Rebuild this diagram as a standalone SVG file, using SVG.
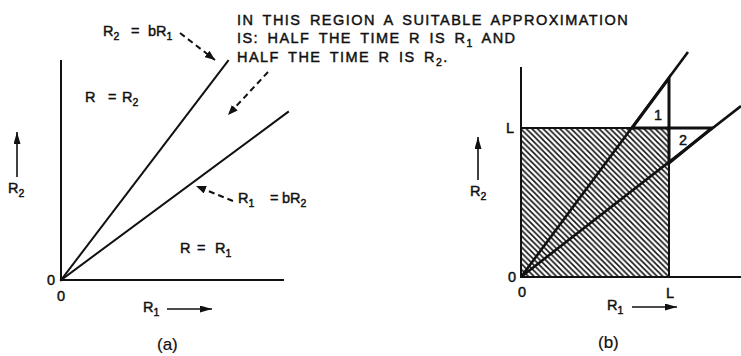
<svg xmlns="http://www.w3.org/2000/svg" width="741" height="356" viewBox="0 0 741 356">
<style>
text{font-family:"Liberation Sans",Arial,sans-serif;font-size:14.5px;fill:#111;stroke:#111;stroke-width:0.45}
.sub{font-size:10.5px}
.ax{stroke:#111;stroke-width:2;fill:none;stroke-linecap:square}
.th{stroke:#111;stroke-width:2.6;fill:none;stroke-linejoin:miter}
.ds{stroke:#111;stroke-width:2;fill:none;stroke-dasharray:6 4}
.ar{stroke:#111;stroke-width:1.6;fill:none}
.note{letter-spacing:1.45px;word-spacing:3px}
.cap{font-size:17px;stroke-width:0.2}
</style>
<defs>
<marker id="ah" viewBox="0 0 10 8" refX="10" refY="4" markerWidth="10" markerHeight="8" markerUnits="userSpaceOnUse" orient="auto">
<path d="M0,0 L10,4 L0,8 Z" fill="#111"/>
</marker>
<marker id="sh" viewBox="0 0 12 7" refX="12" refY="3.5" markerWidth="12" markerHeight="7" markerUnits="userSpaceOnUse" orient="auto">
<path d="M0,0 L12,3.5 L0,7 Z" fill="#111"/>
</marker>
<pattern id="hatch" patternUnits="userSpaceOnUse" width="5.6" height="5.6">
<path d="M-1,-1 L6.6,6.6 M-1,4.6 L1,6.6 M4.6,-1 L6.6,1" stroke="#111" stroke-width="1.6"/>
</pattern>
</defs>

<g id="panel-a">
<g id="axes-a">
<path class="ax" d="M61,61 L61,280 L283,280"/>
</g>
<g id="connectors-a">
<path class="ax" d="M61,280 L228,61"/>
<path class="ax" d="M61,280 L288,112"/>
<path class="ds" d="M180,33 L215,60" marker-end="url(#ah)"/>
<path class="ds" d="M268,72 L228,115" marker-end="url(#ah)"/>
<path class="ds" d="M233,201 L196,186" marker-end="url(#ah)"/>
<path class="ar" d="M17,177 L17,132" marker-end="url(#sh)"/>
<path class="ar" d="M167,309 L212,309" marker-end="url(#sh)"/>
</g>
<g id="labels-a">
<text x="103" y="36">R<tspan class="sub" dy="4">2</tspan><tspan dy="-4" x="131">=</tspan><tspan x="148">bR</tspan><tspan class="sub" dy="4">1</tspan></text>
<text x="85" y="102">R<tspan x="108">=</tspan><tspan x="122">R</tspan><tspan class="sub" dy="4">2</tspan></text>
<text x="238" y="203">R<tspan class="sub" dy="4">1</tspan><tspan dy="-4" x="270">=</tspan><tspan x="282">bR</tspan><tspan class="sub" dy="4">2</tspan></text>
<text x="180" y="253">R<tspan x="197">=</tspan><tspan x="215">R</tspan><tspan class="sub" dy="4">1</tspan></text>
<text x="8" y="193">R<tspan class="sub" dy="4">2</tspan></text>
<text x="143" y="312">R<tspan class="sub" dy="4">1</tspan></text>
<text x="47" y="285">0</text>
<text x="57" y="301">0</text>
<text class="cap" x="157" y="350">(a)</text>
</g>
</g>

<g id="note">
<text class="note" x="237" y="25">IN THIS REGION A SUITABLE APPROXIMATION</text>
<text class="note" x="237" y="43">IS: HALF THE TIME R IS R<tspan class="sub" dy="4">1</tspan><tspan dy="-4">  AND</tspan></text>
<text class="note" x="237" y="62">HALF THE TIME R IS R<tspan class="sub" dy="4">2</tspan><tspan dy="-4">.</tspan></text>
</g>

<g id="panel-b">
<g id="square">
<rect x="521" y="128" width="148" height="149" fill="url(#hatch)"/>
</g>
<g id="axes-b">
<path class="ax" d="M521,68 L521,277 L741,277"/>
<path class="ax" d="M521,128 L632,128"/>
<path class="ax" d="M669,165 L669,277"/>
</g>
<g id="connectors-b">
<path class="th" d="M521,277 L688,52"/>
<path class="th" d="M521,277 L741,106"/>
<path class="ar" d="M478,180 L478,137" marker-end="url(#sh)"/>
<path class="ar" d="M632,307 L677,307" marker-end="url(#sh)"/>
</g>
<g id="triangle-1">
<path class="th" d="M632,128 L669,128 L669,78 Z" style="stroke-width:3"/>
<text x="654" y="120">1</text>
</g>
<g id="triangle-2">
<path class="th" d="M669,128 L712,128 L669,163 Z" style="stroke-width:3"/>
<text x="679" y="145">2</text>
</g>
<g id="labels-b">
<text x="506" y="133">L</text>
<text x="470" y="196">R<tspan class="sub" dy="4">2</tspan></text>
<text x="508" y="282">0</text>
<text x="518" y="297">0</text>
<text x="666" y="298">L</text>
<text x="607" y="310">R<tspan class="sub" dy="4">1</tspan></text>
<text class="cap" x="598" y="348">(b)</text>
</g>
</g>
</svg>
